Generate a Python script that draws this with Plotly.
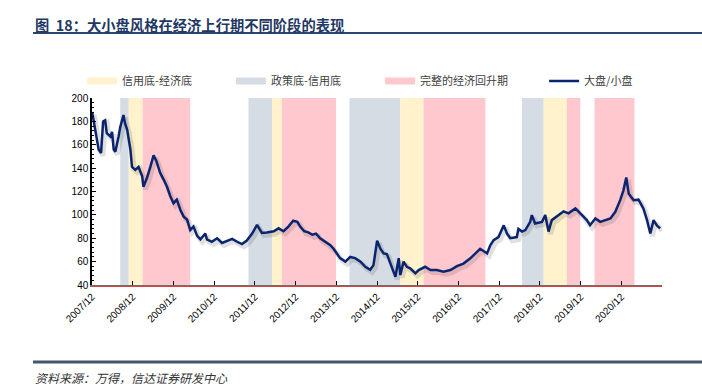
import plotly.graph_objects as go

# ---- data ----
# x: decimal years, y: ratio 大盘/小盘
years = [2007.92, 2007.96, 2008.00, 2008.06, 2008.08, 2008.14, 2008.19, 2008.24, 2008.28, 2008.37,
         2008.41, 2008.45, 2008.49, 2008.57, 2008.61, 2008.69, 2008.73, 2008.78, 2008.86, 2008.90,
         2008.98, 2009.06, 2009.15, 2009.18, 2009.27, 2009.35, 2009.43, 2009.50, 2009.59, 2009.68,
         2009.76, 2009.84, 2009.92, 2010.00, 2010.09, 2010.17, 2010.25, 2010.33, 2010.41, 2010.50,
         2010.58, 2010.70, 2010.74, 2010.86, 2010.99, 2011.11, 2011.23, 2011.36, 2011.48, 2011.60,
         2011.72, 2011.85, 2011.97, 2012.09, 2012.21, 2012.38, 2012.50,
         2012.62, 2012.74, 2012.86, 2012.96, 2013.03, 2013.13, 2013.23, 2013.33, 2013.42, 2013.52,
         2013.65, 2013.77,
         2013.85, 2014.01, 2014.14, 2014.26, 2014.38, 2014.51, 2014.63, 2014.75, 2014.83, 2014.92,
         2015.00, 2015.08, 2015.16, 2015.24, 2015.37, 2015.45, 2015.49, 2015.57, 2015.65, 2015.73,
         2015.86, 2015.94, 2016.02, 2016.10, 2016.23, 2016.39, 2016.55, 2016.72, 2016.88, 2017.04,
         2017.21, 2017.37, 2017.45, 2017.62, 2017.70, 2017.78, 2017.90, 2018.03, 2018.11, 2018.19,
         2018.35, 2018.39, 2018.48, 2018.56, 2018.68, 2018.72, 2018.80, 2018.97, 2019.05, 2019.13,
         2019.21, 2019.38, 2019.50, 2019.62, 2019.79, 2019.91, 2020.07, 2020.15, 2020.28, 2020.40,
         2020.52, 2020.65, 2020.77, 2020.89, 2020.97, 2021.04, 2021.10, 2021.22, 2021.34, 2021.46,
         2021.55, 2021.63, 2021.71, 2021.79, 2021.87]
ratio = [188, 180, 172, 160, 156, 153, 180, 181, 170, 167,
         171, 156, 154, 167, 175, 185.5, 178, 173, 156, 141,
         138.5, 141, 133, 124, 132, 141, 151, 146, 136, 130,
         124, 116, 110, 113, 104, 98.5, 96, 87, 90, 82,
         79, 84, 79, 77, 80, 76, 78, 79.5, 77, 75,
         78, 84, 91.5, 84.5, 85, 86, 88.5,
         86, 90, 95, 94, 90, 86, 85, 83, 84, 80,
         77, 74,
         71, 63, 60, 64, 63, 60, 55.6, 53, 57, 78,
         71, 67, 66.5, 58.5, 47, 63, 48.5, 60, 55.6, 54.3,
         50, 52.8, 54.3, 55.6, 52.8, 52.8, 51.4, 52.8, 56.2, 58.3,
         62.8, 68.4, 71, 67, 74, 78.4, 81, 91, 84, 80,
         81, 88, 85.7, 87, 94, 99.8, 92.6, 94, 99.8, 85.7,
         95.5, 99.8, 103, 101.3, 105.5, 101.3, 95.5, 91.2, 97, 94,
         95.5, 97, 102.6, 112.6, 121, 132, 118, 112.6, 113, 105.5,
         95.5, 84, 95.5, 91, 88.4]

tick_years = [2007.917, 2008.917, 2009.917, 2010.917, 2011.917, 2012.917, 2013.917,
              2014.917, 2015.917, 2016.917, 2017.917, 2018.917, 2019.917, 2020.917]
tick_labels = ["2007/12", "2008/12", "2009/12", "2010/12", "2011/12", "2012/12", "2013/12",
               "2014/12", "2015/12", "2016/12", "2017/12", "2018/12", "2019/12", "2020/12"]

band_start = [2008.61, 2008.82, 2009.16, 2011.76, 2012.34, 2012.58, 2014.24, 2015.49, 2016.06,
              2018.48, 2019.01, 2019.58, 2020.26]
band_end = [2008.82, 2009.16, 2010.33, 2012.34, 2012.58, 2013.91, 2015.49, 2016.06, 2017.58,
            2019.01, 2019.58, 2019.91, 2021.24]
band_kind = ["policy", "credit", "recovery", "policy", "credit", "recovery", "policy", "credit",
             "recovery", "policy", "credit", "recovery", "recovery"]

legend_names = {"credit": "信用底-经济底", "policy": "政策底-信用底", "recovery": "完整的经济回升期"}
series_name = "大盘/小盘"

# ---- styles ----
band_colors = {"credit": "#FFF2CC", "policy": "#D6DCE4", "recovery": "#FFC7CE"}
line_color = "#0A2470"
cjk = "Noto Sans CJK SC"
latin = "Liberation Sans, Arial"

fig = go.Figure()

# legend-only entries for bands
for kind, lw in (("credit", 104), ("policy", 104), ("recovery", 119)):
    fig.add_trace(go.Scatter(x=[None], y=[None], mode="lines", name=legend_names[kind],
                             line=dict(color=band_colors[kind], width=7), legendwidth=lw,
                             hoverinfo="skip"))

# soft shadow of the line
fig.add_trace(go.Scatter(x=[v + 0.05 for v in years], y=[v - 2.2 for v in ratio], mode="lines",
                         line=dict(color="rgba(60,60,60,0.16)", width=5), showlegend=False,
                         hoverinfo="skip"))
fig.add_trace(go.Scatter(x=years, y=ratio, mode="lines", name=series_name,
                         line=dict(color=line_color, width=2.5)))

shapes = []
for s, e, k in zip(band_start, band_end, band_kind):
    shapes.append(dict(type="rect", xref="x", yref="paper", x0=s, x1=e, y0=0, y1=1,
                       fillcolor=band_colors[k], line=dict(width=0), layer="below"))
# red line right under the x axis
shapes.append(dict(type="line", xref="paper", yref="paper", x0=0, x1=1, y0=-0.008, y1=-0.008,
                   line=dict(color="#E04040", width=1)))
# title underline and source rule
shapes.append(dict(type="line", xref="paper", yref="paper", x0=-0.1035, x1=1.08, y0=1.3476, y1=1.3476,
                   line=dict(color="#2C4770", width=2)))
shapes.append(dict(type="line", xref="paper", yref="paper", x0=-0.1035, x1=1.08, y0=-0.4118, y1=-0.4118,
                   line=dict(color="#44546A", width=3)))

annotations = [
    dict(text="<b>图  18：大小盘风格在经济上行期不同阶段的表现</b>", xref="paper", yref="paper",
         x=-0.1035, y=1.3957, xanchor="left", yanchor="middle", showarrow=False,
         font=dict(family=cjk, size=14.3, color="#1F3864")),
    dict(text="<i>资料来源：万得，信达证券研发中心</i>", xref="paper", yref="paper",
         x=-0.1035, y=-0.492, xanchor="left", yanchor="middle", showarrow=False,
         font=dict(family=cjk, size=12, color="#333333")),
]

fig.update_layout(
    width=702, height=388,
    margin=dict(l=92, r=40, t=98, b=103),
    paper_bgcolor="white", plot_bgcolor="white",
    shapes=shapes, annotations=annotations,
    showlegend=True,
    legend=dict(orientation="h", x=-0.0174, y=1.091, xanchor="left", yanchor="middle",
                font=dict(family=cjk, size=11, color="#404040"), itemwidth=30,
                bgcolor="rgba(0,0,0,0)"),
    xaxis=dict(range=[2007.917, 2021.917], tickmode="array", tickvals=tick_years,
               ticktext=tick_labels, tickangle=-45, ticks="inside", ticklen=4, tickcolor="#000",
               showline=True, linecolor="#6E6E6E", linewidth=2, showgrid=False, zeroline=False,
               tickfont=dict(family=latin, size=10, color="#000")),
    yaxis=dict(range=[40, 200], dtick=20, tick0=40, ticks="inside", ticklen=4, tickcolor="#000",
               minor=dict(dtick=4, ticks="inside", ticklen=2.5, tickcolor="#000"),
               showline=True, linecolor="#000", linewidth=1.5, showgrid=False, zeroline=False,
               tickfont=dict(family=latin, size=10, color="#000")),
)

fig.write_html("out.html", config={"displayModeBar": False},
               post_script="document.body.style.margin='0';")
